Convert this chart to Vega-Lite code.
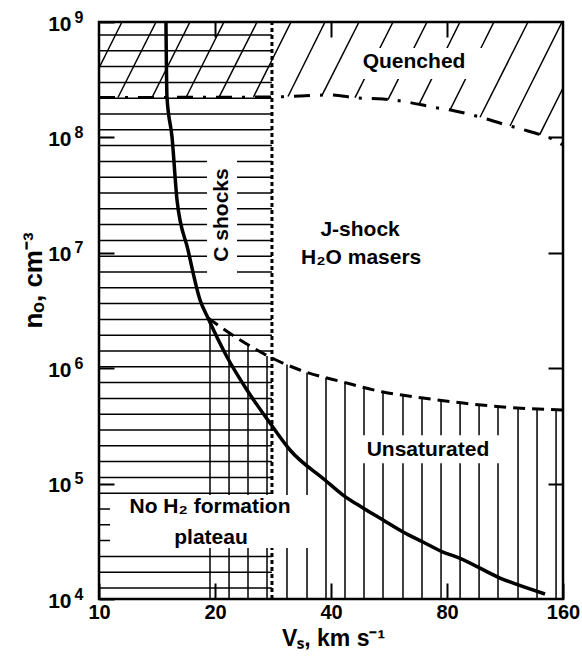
{
  "$schema": "https://vega.github.io/schema/vega-lite/v6.json",
  "width": 464,
  "height": 577,
  "autosize": "none",
  "padding": {"left": 99, "top": 22, "right": 19, "bottom": 58},
  "background": "white",
  "config": {
    "font": "Liberation Sans",
    "view": {"stroke": "black", "strokeWidth": 2.5}
  },
  "resolve": {"axis": {"x": "independent", "y": "independent"}},
  "datasets": {
    "hlines": [
      {"n": 12450}, {"n": 17070}, {"n": 23390}, {"n": 32060}, {"n": 43950}, {"n": 60250},
      {"n": 82570}, {"n": 113150}, {"n": 155100}, {"n": 212600}, {"n": 291300}, {"n": 399400},
      {"n": 547400}, {"n": 750300}, {"n": 1028000}, {"n": 1410000}, {"n": 1932000}, {"n": 2648000},
      {"n": 3629000}, {"n": 4975000}, {"n": 6818000}, {"n": 9346000}, {"n": 12810000}, {"n": 17560000},
      {"n": 24070000}, {"n": 32990000}, {"n": 45220000}, {"n": 61970000}, {"n": 84920000}, {"n": 116400000},
      {"n": 159500000}, {"n": 218700000}, {"n": 299700000}, {"n": 410800000}, {"n": 563000000}, {"n": 771900000}
    ],
    "vlines": [
      {"v": 19.41, "top": 2640000}, {"v": 21.75, "top": 2020000}, {"v": 24.36, "top": 1556000},
      {"v": 27.29, "top": 1277000}, {"v": 30.75, "top": 1079000}, {"v": 34.66, "top": 920000},
      {"v": 38.82, "top": 827000}, {"v": 43.49, "top": 746000}, {"v": 48.72, "top": 678000},
      {"v": 54.58, "top": 618000}, {"v": 61.5, "top": 582000}, {"v": 68.9, "top": 548000},
      {"v": 77.2, "top": 519000}, {"v": 86.5, "top": 499000}, {"v": 96.9, "top": 481000},
      {"v": 108.5, "top": 462000}, {"v": 122.3, "top": 451000}, {"v": 137.0, "top": 443000},
      {"v": 153.5, "top": 434000}
    ],
    "diag": [
      {"v1": 10, "n1": 399500000, "v2": 11.47, "n2": 1000000000},
      {"v1": 11.2, "n1": 221700000, "v2": 14.06, "n2": 1000000000},
      {"v1": 13.73, "n1": 221700000, "v2": 17.22, "n2": 1000000000},
      {"v1": 16.82, "n1": 221700000, "v2": 21.1, "n2": 1000000000},
      {"v1": 20.48, "n1": 222600000, "v2": 25.71, "n2": 1000000000},
      {"v1": 25.17, "n1": 223900000, "v2": 31.5, "n2": 1000000000},
      {"v1": 30.94, "n1": 226200000, "v2": 38.59, "n2": 1000000000},
      {"v1": 37.9, "n1": 231700000, "v2": 47.29, "n2": 1000000000},
      {"v1": 46.17, "n1": 220800000, "v2": 57.94, "n2": 1000000000},
      {"v1": 56.23, "n1": 212200000, "v2": 70.99, "n2": 1000000000},
      {"v1": 67.67, "n1": 193600000, "v2": 86.46, "n2": 1000000000},
      {"v1": 81.46, "n1": 172800000, "v2": 105.9, "n2": 1000000000},
      {"v1": 97.45, "n1": 149600000, "v2": 129.8, "n2": 1000000000},
      {"v1": 116.6, "n1": 125600000, "v2": 159.1, "n2": 1000000000},
      {"v1": 139.1, "n1": 105300000, "v2": 160, "n2": 268000000}
    ],
    "cboundary": [{"v": 28.11}],
    "boxes": [
      {"v1": 46.9, "v2": 98.6, "n1": 320000000, "n2": 596000000},
      {"v1": 19.07, "v2": 22.81, "n1": 5750000, "n2": 76600000},
      {"v1": 44.9, "v2": 113.1, "n1": 150000, "n2": 262000},
      {"v1": 10.68, "v2": 36.6, "n1": 27700, "n2": 79600}
    ],
    "cshock": [
      {"v": 14.92, "n": 1000000000}, {"v": 15.01, "n": 224000000}, {"v": 15.47, "n": 100800000},
      {"v": 15.94, "n": 28670000}, {"v": 17.02, "n": 10580000}, {"v": 18.29, "n": 3900000},
      {"v": 19.18, "n": 2720000}, {"v": 21.49, "n": 1250000}, {"v": 24.21, "n": 647000},
      {"v": 27.78, "n": 335000}, {"v": 31.31, "n": 195500}, {"v": 38.59, "n": 107400},
      {"v": 42.97, "n": 79600}, {"v": 48.43, "n": 61500}, {"v": 54.58, "n": 48400},
      {"v": 61.51, "n": 38100}, {"v": 69.3, "n": 31200}, {"v": 78.1, "n": 25500},
      {"v": 84.92, "n": 23100}, {"v": 109.8, "n": 15200}, {"v": 143.7, "n": 11050}
    ],
    "unsat": [
      {"v": 19.18, "n": 2720000}, {"v": 22.81, "n": 1827000}, {"v": 27.78, "n": 1250000},
      {"v": 33.24, "n": 965000}, {"v": 42.97, "n": 759000}, {"v": 54.58, "n": 622000},
      {"v": 69.3, "n": 552000}, {"v": 88.0, "n": 499000}, {"v": 111.8, "n": 461000},
      {"v": 160, "n": 435000}
    ],
    "quench": [
      {"v": 10, "n": 221700000}, {"v": 28.11, "n": 223900000}, {"v": 39.76, "n": 233000000},
      {"v": 47.01, "n": 219500000}, {"v": 54.58, "n": 215200000}, {"v": 62.99, "n": 202700000},
      {"v": 73.14, "n": 183400000}, {"v": 83.91, "n": 169400000}, {"v": 97.45, "n": 150200000},
      {"v": 111.8, "n": 130600000}, {"v": 129.8, "n": 113600000}, {"v": 149.8, "n": 96800000},
      {"v": 160, "n": 85900000}
    ],
    "labels": [
      {"v": 65.7, "n": 450000000, "text": "Quenched"},
      {"v": 47.6, "n": 15760000, "text": "J-shock"},
      {"v": 47.9, "n": 9020000, "text": "H₂O masers"},
      {"v": 71.4, "n": 195500, "text": "Unsaturated"},
      {"v": 19.41, "n": 62700, "text": "No H₂ formation"},
      {"v": 19.53, "n": 33800, "text": "plateau"}
    ],
    "vlabels": [
      {"v": 20.86, "n": 21260000, "text": "C shocks"}
    ]
  },
  "layer": [
    {
      "data": {"name": "hlines"},
      "mark": {"type": "rule", "color": "black", "strokeWidth": 1.5},
      "encoding": {
        "x": {"datum": 10, "type": "quantitative", "scale": {"type": "log", "domain": [10, 160]},
          "axis": {"orient": "bottom", "values": [10, 20, 40, 80, 160], "labelExpr": "'' + round(datum.value)",
            "tickSize": -16, "tickWidth": 2, "tickColor": "black", "domain": false, "grid": false,
            "labelFont": "Liberation Sans", "labelFontWeight": "bold", "labelFontSize": 20, "labelColor": "black",
            "labelPadding": 19, "labelFlush": false, "labelOverlap": false,
            "title": "Vₛ, km s⁻¹", "titleFont": "Liberation Sans", "titleFontSize": 23, "titleFontWeight": "bold",
            "titleColor": "black", "titleX": 234, "titleY": 46, "titleBaseline": "alphabetic"}},
        "x2": {"datum": 28.11},
        "y": {"field": "n", "type": "quantitative", "scale": {"type": "log", "domain": [10000, 1000000000]},
          "axis": {"orient": "left", "values": [10000, 100000, 1000000, 10000000, 100000000, 1000000000],
            "labelExpr": "'10'",
            "tickSize": -15, "tickWidth": 2, "tickColor": "black", "domain": false, "grid": false,
            "labelFont": "Liberation Sans", "labelFontWeight": "bold", "labelFontSize": 21, "labelColor": "black",
            "labelPadding": 43, "labelOffset": 2, "labelFlush": false, "labelOverlap": false,
            "title": "nₒ, cm⁻³", "titleFont": "Liberation Sans", "titleFontSize": 26, "titleFontWeight": "bold",
            "titleColor": "black", "titleX": -58, "titleY": 258, "titleAlign": "center", "titleBaseline": "alphabetic"}}
      }
    },
    {
      "data": {"name": "vlines"},
      "mark": {"type": "rule", "color": "black", "strokeWidth": 1.5},
      "encoding": {
        "x": {"field": "v", "type": "quantitative", "scale": {"type": "log", "domain": [10, 160]},
          "axis": {"orient": "top", "values": [20, 40, 80], "labels": false, "tickSize": -15, "tickWidth": 2,
            "tickColor": "black", "domain": false, "grid": false, "title": null}},
        "y": {"field": "top", "type": "quantitative", "scale": {"type": "log", "domain": [10000, 1000000000]},
          "axis": {"orient": "right", "values": [100000, 1000000, 10000000, 100000000], "labels": false,
            "tickSize": -15, "tickWidth": 2, "tickColor": "black", "domain": false, "grid": false, "title": null}},
        "y2": {"datum": 10000}
      }
    },
    {
      "data": {"name": "diag"},
      "mark": {"type": "rule", "color": "black", "strokeWidth": 1.5},
      "encoding": {
        "x": {"field": "v1", "type": "quantitative", "scale": {"type": "log", "domain": [10, 160]}, "axis": null},
        "x2": {"field": "v2"},
        "y": {"field": "n1", "type": "quantitative", "scale": {"type": "log", "domain": [10000, 1000000000]},
          "axis": {"orient": "left", "values": [10000, 100000, 1000000, 10000000, 100000000, 1000000000],
            "labelExpr": "['4','5','6','7','8','9'][round(log(datum.value)/LN10) - 4]",
            "ticks": false, "domain": false, "grid": false,
            "labelFont": "Liberation Sans", "labelFontWeight": "bold", "labelFontSize": 16, "labelColor": "black",
            "labelPadding": 16, "labelOffset": -5, "labelFlush": false, "labelOverlap": false, "title": null}},
        "y2": {"field": "n2"}
      }
    },
    {
      "data": {"name": "cboundary"},
      "mark": {"type": "rule", "color": "black", "strokeWidth": 3, "strokeDash": [4, 3]},
      "encoding": {
        "x": {"field": "v", "type": "quantitative", "scale": {"type": "log", "domain": [10, 160]}, "axis": null},
        "y": {"datum": 10000, "type": "quantitative", "scale": {"type": "log", "domain": [10000, 1000000000]}, "axis": null},
        "y2": {"datum": 1000000000}
      }
    },
    {
      "data": {"name": "boxes"},
      "mark": {"type": "rect", "color": "white", "opacity": 1},
      "encoding": {
        "x": {"field": "v1", "type": "quantitative", "scale": {"type": "log", "domain": [10, 160]}, "axis": null},
        "x2": {"field": "v2"},
        "y": {"field": "n1", "type": "quantitative", "scale": {"type": "log", "domain": [10000, 1000000000]}, "axis": null},
        "y2": {"field": "n2"}
      }
    },
    {
      "data": {"name": "quench"},
      "mark": {"type": "line", "color": "black", "strokeWidth": 3, "strokeDash": [16, 10, 3, 10], "interpolate": "monotone"},
      "encoding": {
        "x": {"field": "v", "type": "quantitative", "scale": {"type": "log", "domain": [10, 160]}, "axis": null},
        "y": {"field": "n", "type": "quantitative", "scale": {"type": "log", "domain": [10000, 1000000000]}, "axis": null}
      }
    },
    {
      "data": {"name": "unsat"},
      "mark": {"type": "line", "color": "black", "strokeWidth": 3, "strokeDash": [12, 7], "interpolate": "monotone"},
      "encoding": {
        "x": {"field": "v", "type": "quantitative", "scale": {"type": "log", "domain": [10, 160]}, "axis": null},
        "y": {"field": "n", "type": "quantitative", "scale": {"type": "log", "domain": [10000, 1000000000]}, "axis": null}
      }
    },
    {
      "data": {"name": "cshock"},
      "mark": {"type": "line", "color": "black", "strokeWidth": 3.5, "interpolate": "monotone"},
      "encoding": {
        "x": {"field": "v", "type": "quantitative", "scale": {"type": "log", "domain": [10, 160]}, "axis": null},
        "y": {"field": "n", "type": "quantitative", "scale": {"type": "log", "domain": [10000, 1000000000]}, "axis": null}
      }
    },
    {
      "data": {"name": "labels"},
      "mark": {"type": "text", "font": "Liberation Sans", "fontWeight": "bold", "fontSize": 21, "color": "black", "align": "center", "baseline": "middle"},
      "encoding": {
        "x": {"field": "v", "type": "quantitative", "scale": {"type": "log", "domain": [10, 160]}, "axis": null},
        "y": {"field": "n", "type": "quantitative", "scale": {"type": "log", "domain": [10000, 1000000000]}, "axis": null},
        "text": {"field": "text", "type": "nominal"}
      }
    },
    {
      "data": {"name": "vlabels"},
      "mark": {"type": "text", "font": "Liberation Sans", "fontWeight": "bold", "fontSize": 21, "color": "black", "align": "center", "baseline": "middle", "angle": 270},
      "encoding": {
        "x": {"field": "v", "type": "quantitative", "scale": {"type": "log", "domain": [10, 160]}, "axis": null},
        "y": {"field": "n", "type": "quantitative", "scale": {"type": "log", "domain": [10000, 1000000000]}, "axis": null},
        "text": {"field": "text", "type": "nominal"}
      }
    }
  ]
}
